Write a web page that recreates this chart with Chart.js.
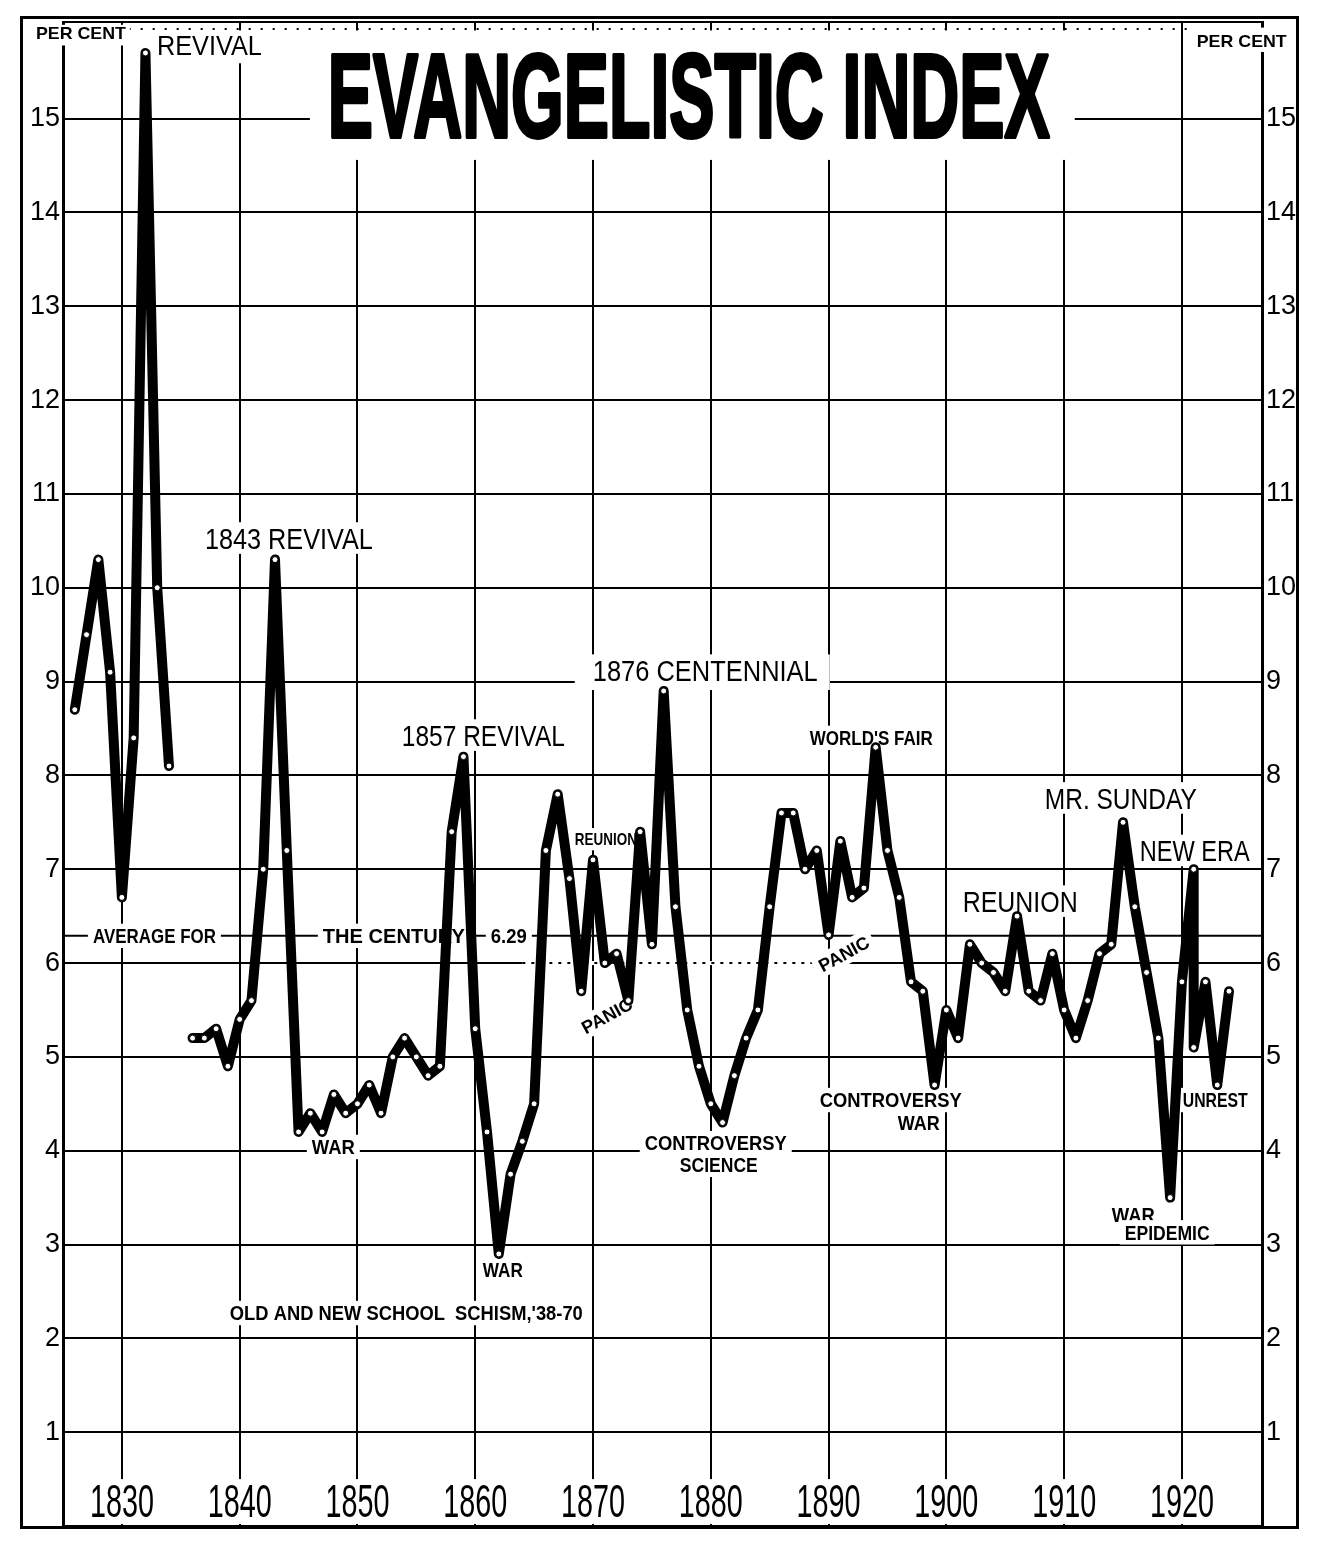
<!DOCTYPE html>
<html>
<head>
<meta charset="utf-8">
<script src="https://cdn.jsdelivr.net/npm/chart.js@4.4.1/dist/chart.umd.min.js"></script>
<style>
html,body{margin:0;padding:0;background:#fff;}
canvas{display:block;}
</style>
</head>
<body>
<canvas id="c" width="1326" height="1552"></canvas>
<script>
// ---------------- DATA ----------------
const years = [
  1826,1827,1828,1829,1830,1831,1832,1833,1834,1835,
  1836,1837,1838,1839,1840,1841,1842,1843,1844,1845,
  1846,1847,1848,1849,1850,1851,1852,1853,1854,1855,
  1856,1857,1858,1859,1860,1861,1862,1863,1864,1865,
  1866,1867,1868,1869,1870,1871,1872,1873,1874,1875,
  1876,1877,1878,1879,1880,1881,1882,1883,1884,1885,
  1886,1887,1888,1889,1890,1891,1892,1893,1894,1895,
  1896,1897,1898,1899,1900,1901,1902,1903,1904,1905,
  1906,1907,1908,1909,1910,1911,1912,1913,1914,1915,
  1916,1917,1918,1919,1920,1921,1921,1922,1923,1924
];
const percentValues = [
  8.7, 9.5, 10.3, 9.1, 6.7, 8.4, 15.7, 10.0, 8.1, null,
  5.2, 5.2, 5.3, 4.9, 5.4, 5.6, 7.0, 10.3, 7.2, 4.2,
  4.4, 4.2, 4.6, 4.4, 4.5, 4.7, 4.4, 5.0, 5.2, 5.0,
  4.8, 4.9, 7.4, 8.2, 5.3, 4.2, 2.9, 3.75, 4.1, 4.5,
  7.2, 7.8, 6.9, 5.7, 7.1, 6.0, 6.1, 5.6, 7.4, 6.2,
  8.9, 6.6, 5.5, 4.9, 4.5, 4.3, 4.8, 5.2, 5.5, 6.6,
  7.6, 7.6, 7.0, 7.2, 6.3, 7.3, 6.7, 6.8, 8.3, 7.2,
  6.7, 5.8, 5.7, 4.7, 5.5, 5.2, 6.2, 6.0, 5.9, 5.7,
  6.5, 5.7, 5.6, 6.1, 5.5, 5.2, 5.6, 6.1, 6.2, 7.5,
  6.6, 5.9, 5.2, 3.5, 5.8, 7.0, 5.1, 5.8, 4.7, 5.7
];
const decadeTicks = [1830,1840,1850,1860,1870,1880,1890,1900,1910,1920];
const percentTicks = [1,2,3,4,5,6,7,8,9,10,11,12,13,14,15];
const centuryAverage = 6.29;
const dottedSixSpan = [1864, 1889];

// ---------------- ANNOTATIONS (text placed in data coordinates) ----------------
const notes = [
  {t:'REVIVAL', at:[1837.43,15.79], w:105, s:28, box:[1832.55,1842.22,15.94,15.59]},
  {t:'1843 REVIVAL', at:[1844.18,10.53], w:168, s:30},
  {t:'1857 REVIVAL', at:[1860.69,8.43], w:163, s:30},
  {t:'1876 CENTENNIAL', at:[1879.53,9.12], w:225, s:30, box:[1868.45,1890.10,9.29,8.91]},
  {t:"WORLD'S FAIR", at:[1893.63,8.40], w:123, s:20, b:true},
  {t:'MR. SUNDAY', at:[1914.81,7.76], w:152, s:30},
  {t:'NEW ERA', at:[1921.09,7.20], w:110, s:30},
  {t:'REUNION', at:[1906.27,6.66], w:115, s:30},
  {t:'REUNION', at:[1871.09,7.32], w:62, s:17, b:true},
  {t:'PANIC', at:[1871.17,5.44], w:55, s:18, b:true, rot:-0.5},
  {t:'PANIC', at:[1891.29,6.10], w:55, s:18, b:true, rot:-0.5},
  {t:'AVERAGE FOR', at:[1832.76,6.29], w:123, s:20, b:true},
  {t:'THE CENTURY', at:[1853.09,6.29], w:142, s:20, b:true},
  {t:'6.29', at:[1862.85,6.29], w:36, s:20, b:true},
  {t:'WAR', at:[1847.95,4.04], w:43, s:20, b:true},
  {t:'WAR', at:[1862.34,2.73], w:40, s:20, b:true},
  {t:"OLD AND NEW SCHOOL  SCHISM,'38-70", at:[1854.15,2.27], w:353, s:20, b:true},
  {t:'CONTROVERSY', at:[1880.42,4.08], w:142, s:20, b:true},
  {t:'SCIENCE', at:[1880.68,3.85], w:78, s:20, b:true},
  {t:'CONTROVERSY', at:[1895.28,4.54], w:142, s:20, b:true},
  {t:'WAR', at:[1897.66,4.30], w:42, s:20, b:true},
  {t:'UNREST', at:[1922.83,4.54], w:65, s:20, b:true},
  {t:'WAR', at:[1915.87,3.32], w:43, s:20, b:true},
  {t:'EPIDEMIC', at:[1918.75,3.13], w:85, s:20, b:true},
  {t:'EVANGELISTIC INDEX', at:[1878.13,15.26], w:722, s:118, b:true, stroke:4, box:[1845.96,1910.90,15.94,14.56]},
  {t:'PER CENT', at:[1826.52,15.91], w:90, s:17, b:true, box:[1822.44,1830.68,16.00,15.78]},
  {t:'PER CENT', at:[1925.08,15.83], w:90, s:17, b:true, box:[1920.83,1929.32,15.97,15.71]}
];
const yearLabelValue = 0.277;
const bandTopValue = 0.5;

const FONT = '"Liberation Sans", Arial, sans-serif';

function drawText(ctx, t, cx, cy, o) {
  ctx.save();
  ctx.font = (o.b ? 'bold ' : 'normal ') + o.s + 'px ' + FONT;
  const w0 = ctx.measureText(t).width;
  const sx = o.w ? o.w / w0 : 1;
  const cap = o.s * 0.72;
  ctx.translate(cx, cy);
  if (o.rot) ctx.rotate(o.rot);
  if (o.bg) {
    const W = w0 * sx + 10, H = cap + 10;
    ctx.fillStyle = '#fff';
    ctx.fillRect(-W / 2, -H / 2, W, H);
  }
  ctx.scale(sx, 1);
  ctx.fillStyle = '#000';
  ctx.textAlign = 'center';
  ctx.textBaseline = 'alphabetic';
  ctx.fillText(t, 0, cap / 2);
  if (o.stroke) {
    ctx.lineWidth = o.stroke;
    ctx.strokeStyle = '#000';
    ctx.lineJoin = 'round';
    ctx.strokeText(t, 0, cap / 2);
  }
  ctx.restore();
}

const decor = {
  id: 'decor',
  beforeDatasetsDraw(chart) {
    const {ctx, chartArea: a, scales} = chart;
    const X = v => scales.x.getPixelForValue(v);
    const Y = v => scales.y.getPixelForValue(v);
    ctx.save();
    // white band for the year labels (grid stops above it)
    ctx.fillStyle = '#fff';
    ctx.fillRect(a.left + 2, Y(bandTopValue), a.right - a.left - 4, a.bottom - Y(bandTopValue) - 2);
    decadeTicks.forEach(d => drawText(ctx, String(d), X(d), Y(yearLabelValue), {s: 46, w: 64}));

    // dotted portion of the 6 line
    ctx.fillStyle = '#fff';
    ctx.fillRect(X(dottedSixSpan[0]), Y(6) - 2, X(dottedSixSpan[1]) - X(dottedSixSpan[0]), 4);
    ctx.strokeStyle = '#000';
    ctx.lineWidth = 2;
    ctx.setLineDash([3, 6]);
    ctx.beginPath();
    ctx.moveTo(X(dottedSixSpan[0]), Y(6));
    ctx.lineTo(X(dottedSixSpan[1]), Y(6));
    ctx.stroke();

    // dotted top rule
    ctx.setLineDash([2, 10]);
    ctx.beginPath();
    ctx.moveTo(X(1826.5), a.top + 7);
    ctx.lineTo(X(1924), a.top + 7);
    ctx.stroke();
    ctx.setLineDash([]);

    // top rule of inner frame
    ctx.beginPath();
    ctx.moveTo(a.left, a.top);
    ctx.lineTo(a.right, a.top);
    ctx.stroke();

    // average for the century
    ctx.beginPath();
    ctx.moveTo(a.left, Y(centuryAverage));
    ctx.lineTo(a.right, Y(centuryAverage));
    ctx.stroke();

    // annotations
    notes.forEach(n => {
      if (n.box) {
        const [x1, x2, v1, v2] = n.box;
        ctx.fillStyle = '#fff';
        ctx.fillRect(X(x1), Y(v1), X(x2) - X(x1), Y(v2) - Y(v1));
      }
      drawText(ctx, n.t, X(n.at[0]), Y(n.at[1]), Object.assign({bg: !n.box}, n));
    });
    ctx.restore();
  },
  afterDraw(chart) {
    const ctx = chart.ctx;
    ctx.save();
    ctx.strokeStyle = '#000';
    ctx.lineWidth = 3;
    ctx.strokeRect(21.5, 17.5, 1276, 1510);
    ctx.restore();
  }
};

new Chart(document.getElementById('c'), {
  type: 'line',
  data: {
    datasets: [{
      label: 'Evangelistic index',
      data: years.map((yr, i) => ({x: yr, y: percentValues[i]})),
      borderColor: '#000',
      borderWidth: 10,
      borderCapStyle: 'round',
      borderJoinStyle: 'round',
      pointRadius: 3,
      pointBackgroundColor: '#fff',
      pointBorderColor: '#000',
      pointBorderWidth: 1,
      spanGaps: false,
      tension: 0,
      clip: false
    }]
  },
  options: {
    responsive: false,
    animation: false,
    devicePixelRatio: 1,
    layout: {padding: {top: 22, bottom: 26, left: 0, right: 0}},
    plugins: {legend: {display: false}, tooltip: {enabled: false}, title: {display: false}},
    scales: {
      x: {
        type: 'linear', min: 1825, max: 1926.8,
        afterBuildTicks: s => { s.ticks = decadeTicks.map(v => ({value: v})); },
        afterFit: s => { s.height = 0; },
        ticks: {display: false},
        grid: {color: '#000', lineWidth: 2, drawTicks: false},
        border: {display: true, color: '#000', width: 3}
      },
      y: {
        type: 'linear', position: 'left', min: 0, max: 16.03,
        afterBuildTicks: s => { s.ticks = percentTicks.map(v => ({value: v})); },
        afterFit: s => { s.width = 63; },
        ticks: {color: '#000', padding: 3, font: {family: FONT, size: 27}},
        grid: {color: '#000', lineWidth: 2, drawTicks: false},
        border: {display: true, color: '#000', width: 3}
      },
      y2: {
        type: 'linear', position: 'right', min: 0, max: 16.03,
        afterBuildTicks: s => { s.ticks = percentTicks.map(v => ({value: v})); },
        afterFit: s => { s.width = 64; },
        ticks: {color: '#000', padding: 4, font: {family: FONT, size: 27}},
        grid: {display: false, drawTicks: false},
        border: {display: true, color: '#000', width: 3}
      }
    }
  },
  plugins: [decor]
});
</script>
</body>
</html>
